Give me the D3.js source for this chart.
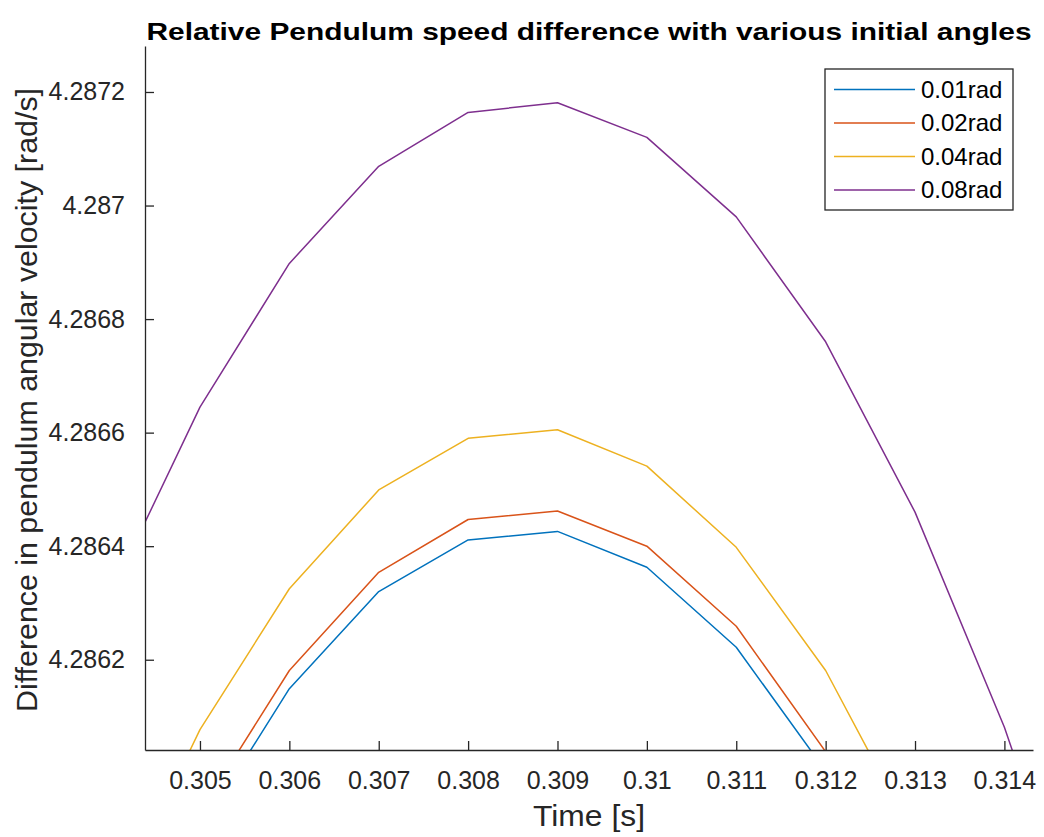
<!DOCTYPE html>
<html>
<head>
<meta charset="utf-8">
<script src="https://cdn.jsdelivr.net/npm/d3@7"></script>
<style>
  html, body { margin: 0; padding: 0; background: #fff; }
  svg { display: block; font-family: "Liberation Sans", Arial, Helvetica, sans-serif; }
</style>
</head>
<body>
<svg id="chart" width="1044" height="837"></svg>
<script>
// Sample times [s]
const time = [0.304, 0.305, 0.306, 0.307, 0.308, 0.309, 0.310, 0.311, 0.312, 0.313, 0.314, 0.315];

// Angular velocity [rad/s] for each initial angle
const vel001 = [4.285571, 4.285899, 4.286149, 4.286320, 4.286411, 4.286426, 4.286363, 4.286222, 4.286004, 4.285707, 4.285330, 4.284870];
const vel002 = [4.285601, 4.285931, 4.286181, 4.286354, 4.286447, 4.286462, 4.286400, 4.286259, 4.286038, 4.285742, 4.285366, 4.284905];
const vel004 = [4.285749, 4.286077, 4.286325, 4.286499, 4.286590, 4.286605, 4.286541, 4.286398, 4.286181, 4.285885, 4.285510, 4.285050];
const vel008 = [4.286315, 4.286645, 4.286898, 4.287069, 4.287164, 4.287181, 4.287120, 4.286980, 4.286760, 4.286460, 4.286081, 4.285622];

const seriesNames = ["0.01rad", "0.02rad", "0.04rad", "0.08rad"];
const seriesValues = [vel001, vel002, vel004, vel008];
const seriesColors = ["#0072BD", "#D95319", "#EDB120", "#7E2F8E"];

const xTicks = [0.305, 0.306, 0.307, 0.308, 0.309, 0.310, 0.311, 0.312, 0.313, 0.314];
const xTickLabels = ["0.305", "0.306", "0.307", "0.308", "0.309", "0.31", "0.311", "0.312", "0.313", "0.314"];
const yTicks = [4.2862, 4.2864, 4.2866, 4.2868, 4.2870, 4.2872];
const yTickLabels = ["4.2862", "4.2864", "4.2866", "4.2868", "4.287", "4.2872"];

const xLimits = [0.304385, 0.31432];
const yLimits = [4.286041, 4.287281];

const titleText = "Relative Pendulum speed difference with various initial angles";
const xLabel = "Time [s]";
const yLabel = "Difference in pendulum angular velocity [rad/s]";

// Layout
const plot = { left: 145, right: 1033, top: 46, bottom: 750 };
const axisColor = "#262626";

const svg = d3.select("#chart");

const x = d3.scaleLinear().domain(xLimits).range([plot.left, plot.right]);
const y = d3.scaleLinear().domain(yLimits).range([plot.bottom, plot.top]);

// Clip the traces to the axes area
svg.append("defs").append("clipPath").attr("id", "plot-clip")
  .append("rect")
  .attr("x", plot.left).attr("y", plot.top)
  .attr("width", plot.right - plot.left).attr("height", plot.bottom - plot.top);

const line = d3.line()
  .x((d, i) => x(time[i]))
  .y(d => y(d));

const traces = svg.append("g").attr("clip-path", "url(#plot-clip)");
seriesValues.forEach((vals, k) => {
  traces.append("path")
    .datum(vals)
    .attr("d", line)
    .attr("fill", "none")
    .attr("stroke", seriesColors[k])
    .attr("stroke-width", 1.5)
    .attr("stroke-linejoin", "round");
});

// Axes with inward ticks
const xAxis = d3.axisBottom(x)
  .tickValues(xTicks)
  .tickFormat((d, i) => xTickLabels[i])
  .tickSizeInner(-9)
  .tickSizeOuter(0)
  .tickPadding(21);

const yAxis = d3.axisLeft(y)
  .tickValues(yTicks)
  .tickFormat((d, i) => yTickLabels[i])
  .tickSizeInner(-9)
  .tickSizeOuter(0)
  .tickPadding(20);

const gx = svg.append("g")
  .attr("transform", `translate(0,${plot.bottom})`)
  .call(xAxis);
const gy = svg.append("g")
  .attr("transform", `translate(${plot.left},0)`)
  .call(yAxis);

[gx, gy].forEach(g => {
  g.select(".domain").attr("stroke", axisColor).attr("stroke-width", 1.3);
  g.selectAll(".tick line").attr("stroke", axisColor).attr("stroke-width", 1.3);
  g.selectAll(".tick text")
    .attr("fill", axisColor)
    .style("font-size", "25px")
    .style("font-family", "\"Liberation Sans\", Arial, sans-serif");
});
gx.selectAll(".tick text").attr("dy", "0.71em");

// Title
svg.append("text")
  .attr("x", (plot.left + plot.right) / 2)
  .attr("y", 40)
  .attr("text-anchor", "middle")
  .attr("font-weight", "bold")
  .attr("font-size", 24)
  .attr("fill", "#000")
  .attr("textLength", 885)
  .attr("lengthAdjust", "spacingAndGlyphs")
  .text(titleText);

// Axis labels
svg.append("text")
  .attr("x", (plot.left + plot.right) / 2)
  .attr("y", 826)
  .attr("text-anchor", "middle")
  .attr("font-size", 30)
  .attr("fill", axisColor)
  .attr("textLength", 112)
  .attr("lengthAdjust", "spacingAndGlyphs")
  .text(xLabel);

svg.append("text")
  .attr("transform", `translate(37,400) rotate(-90)`)
  .attr("text-anchor", "middle")
  .attr("font-size", 30)
  .attr("fill", axisColor)
  .attr("textLength", 624)
  .attr("lengthAdjust", "spacingAndGlyphs")
  .text(yLabel);

// Legend
const legend = { left: 825, top: 69, width: 188, height: 141, rowGap: 33.5, firstRow: 20.5 };
const lg = svg.append("g");
lg.append("rect")
  .attr("x", legend.left).attr("y", legend.top)
  .attr("width", legend.width).attr("height", legend.height)
  .attr("fill", "#fff")
  .attr("stroke", axisColor)
  .attr("stroke-width", 1.3);

seriesNames.forEach((name, k) => {
  const ry = legend.top + legend.firstRow + k * legend.rowGap;
  lg.append("line")
    .attr("x1", legend.left + 9).attr("x2", legend.left + 90)
    .attr("y1", ry).attr("y2", ry)
    .attr("stroke", seriesColors[k])
    .attr("stroke-width", 1.5);
  lg.append("text")
    .attr("x", legend.left + 96)
    .attr("y", ry)
    .attr("dy", "0.35em")
    .attr("font-size", 24)
    .attr("fill", "#000")
    .text(name);
});
</script>
</body>
</html>
